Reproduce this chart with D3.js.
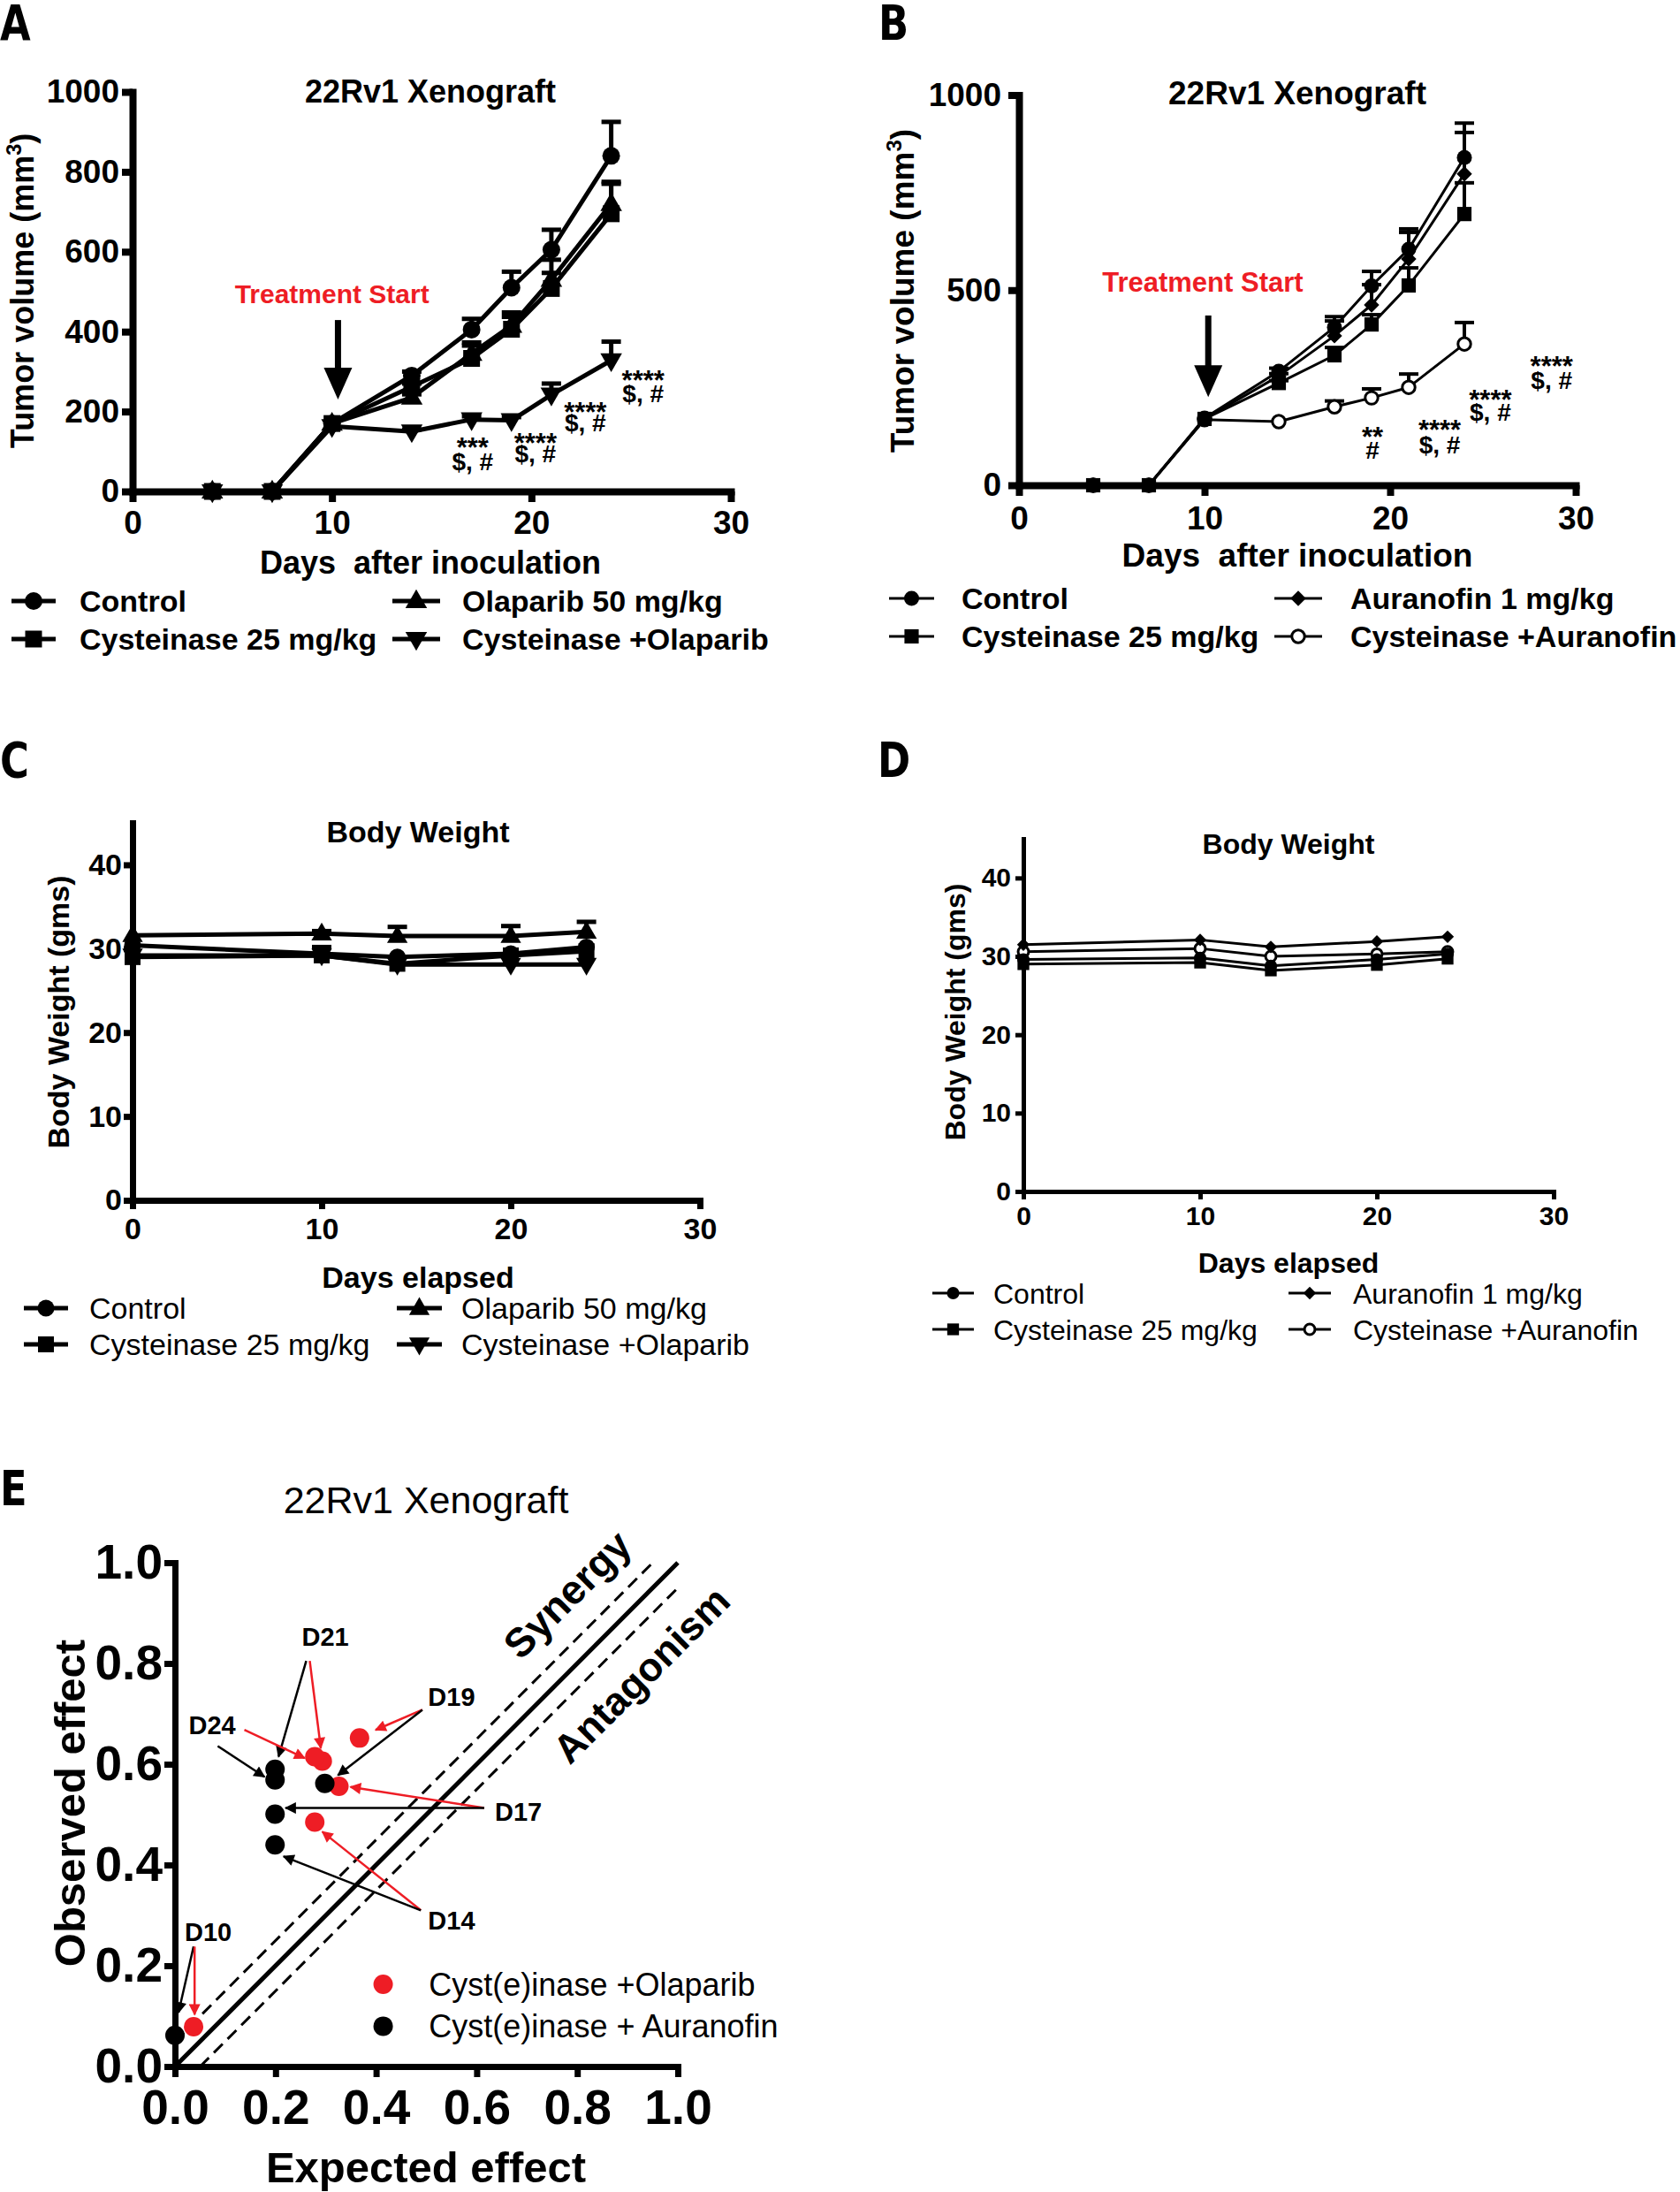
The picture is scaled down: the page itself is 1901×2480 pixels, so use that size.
<!DOCTYPE html>
<html><head><meta charset="utf-8">
<script src="https://cdn.jsdelivr.net/npm/d3@7"></script>
<style>body{margin:0;background:#fff} svg{display:block}</style>
</head><body>
<script>
// ---------------- DATA ----------------
// Panel A / B : tumour volume (mm3)
const daysTumor = [4, 7, 10, 14, 17, 19, 21, 24];
const aControl   = [0, 0, 170, 290, 405, 510, 605, 840];
const aControlE  = [0, 0, 0, 10, 27, 40, 50, 85];
const aCyst      = [0, 0, 170, 262, 333, 406, 508, 695];
const aCystE     = [0, 0, 0, 8, 40, 42, 39, 80];
const aOlap      = [0, 0, 170, 235, 345, 415, 530, 720];
const aOlapE     = [0, 0, 0, 8, 20, 22, 50, 50];
const aCombo     = [0, 0, 163, 150, 180, 178, 242, 328];
const aComboE    = [0, 0, 0, 5, 8, 8, 28, 47];

const bControl   = [0, 0, 172, 292, 405, 511, 605, 840];
const bControlE  = [0, 0, 0, 8, 27, 37, 52, 88];
const bCyst      = [0, 0, 170, 262, 333, 412, 512, 695];
const bCystE     = [0, 0, 0, 6, 20, 25, 45, 80];
const bAura      = [0, 0, 170, 280, 383, 462, 580, 798];
const bAuraE     = [0, 0, 0, 6, 38, 52, 68, 106];
const bCombo     = [0, 0, 168, 163, 201, 224, 251, 362];
const bComboE    = [0, 0, 0, 0, 15, 23, 34, 55];

// Panel C / D : body weight (g)
const daysWeight = [0, 10, 14, 20, 24];
const cControl = [30.4, 29.4, 29.0, 29.4, 30.2];
const cCyst    = [29.0, 29.2, 28.2, 29.2, 29.7];
const cCystE   = [0, 1.0, 0, 0, 0];
const cOlap    = [31.6, 31.8, 31.5, 31.5, 32.0];
const cOlapE   = [0, 0.3, 1.1, 1.2, 1.2];
const cCombo   = [29.2, 29.2, 28.1, 28.1, 28.1];

const dControl = [29.6, 29.8, 28.8, 29.6, 30.3];
const dCyst    = [29.0, 29.2, 28.2, 28.9, 29.7];
const dAura    = [31.5, 32.1, 31.2, 31.9, 32.5];
const dCombo   = [30.6, 31.0, 30.0, 30.3, 30.6];

// Tick values
const tumorXTicks = [0, 10, 20, 30];
const aYTicks = [0, 200, 400, 600, 800, 1000];
const bYTicks = [0, 500, 1000];
const weightYTicks = [0, 10, 20, 30, 40];
const eTicks = [0, 0.2, 0.4, 0.6, 0.8, 1.0];

// Significance annotations (day, value of line 1, value of line 2)
const aStars  = ['***', '****', '****', '****'];
const aStars2 = ['$, #', '$, #', '$, #', '$, #'];
const aStarDay = [17.05, 20.2, 22.7, 25.6];
const aStarV1 = [128, 139, 217, 296];
const aStarV2 = [75, 95, 173, 246];
const bStars  = ['**', '****', '****', '****'];
const bStars2 = ['#', '$, #', '$, #', '$, #'];
const bStarDay = [19.05, 22.67, 25.4, 28.7];
const bStarV1 = [143, 161, 238, 324];
const bStarV2 = [91, 104, 188, 270];

// Panel E : Bliss plot, days D10,D14,D17,D19,D21,D24
const eDayLabels = ['D10', 'D14', 'D17', 'D19', 'D21', 'D24'];
const eOlapX = [0.037, 0.278, 0.326, 0.367, 0.293, 0.278];
const eOlapY = [0.079, 0.485, 0.556, 0.652, 0.606, 0.615];
const eAuraX = [0.0, 0.199, 0.199, 0.298, 0.199, 0.199];
const eAuraY = [0.062, 0.440, 0.501, 0.562, 0.590, 0.569];
const eLabelX = [0.066, 0.55, 0.683, 0.55, 0.299, 0.074];
const eLabelY = [0.267, 0.289, 0.505, 0.733, 0.853, 0.677];
// arrows: from (x1,y1) to (x2,y2), colour key
const eArrX1 = [0.261, 0.268, 0.492, 0.492, 0.138, 0.085, 0.615, 0.615, 0.489, 0.489, 0.037, 0.039];
const eArrY1 = [0.805, 0.805, 0.708, 0.708, 0.668, 0.636, 0.513, 0.513, 0.310, 0.310, 0.238, 0.238];
const eArrX2 = [0.206, 0.290, 0.399, 0.324, 0.258, 0.178, 0.349, 0.220, 0.293, 0.216, 0.007, 0.039];
const eArrY2 = [0.615, 0.632, 0.668, 0.578, 0.612, 0.575, 0.555, 0.513, 0.466, 0.417, 0.107, 0.103];
const eArrCol = ['k', 'r', 'r', 'k', 'r', 'k', 'r', 'k', 'r', 'k', 'k', 'r'];
const eRefOffsets = [0, 0.05, -0.05];

// ---------------- DRAWING ----------------
const FONT = "'Liberation Sans', Arial, Helvetica, sans-serif";
const RED = '#ee1d25';
const svg = d3.select('body').append('svg').attr('width', 1901).attr('height', 2480)
  .attr('font-family', FONT);

function T(p, x, y, s, size, o = {}) {
  const t = p.append('text').attr('x', x).attr('y', y).text(s)
    .attr('font-size', size).attr('font-family', o.family || FONT)
    .attr('font-weight', o.weight || 'bold').attr('text-anchor', o.anchor || 'start')
    .attr('fill', o.fill || '#000');
  if (o.rotate) t.attr('transform', `rotate(${o.rotate},${x},${y})`);
  return t;
}

function symPath(type, size) { return d3.symbol().type(type).size(size)(); }

function drawMarker(g, kind, cx, cy, s) {
  let p;
  if (kind === 'circle') p = g.append('circle').attr('cx', cx).attr('cy', cy).attr('r', s).attr('fill', '#000');
  else if (kind === 'open') p = g.append('circle').attr('cx', cx).attr('cy', cy).attr('r', s * 0.85)
      .attr('fill', '#fff').attr('stroke', '#000').attr('stroke-width', 3);
  else if (kind === 'square') p = g.append('path').attr('d', symPath(d3.symbolSquare, (s * 1.9) ** 2))
      .attr('transform', `translate(${cx},${cy})`).attr('fill', '#000');
  else if (kind === 'diamond') p = g.append('path').attr('d', symPath(d3.symbolSquare, (s * 1.45) ** 2))
      .attr('transform', `translate(${cx},${cy}) rotate(45)`).attr('fill', '#000');
  else if (kind === 'tri') p = g.append('path').attr('d', symPath(d3.symbolTriangle, s * s * 2.6))
      .attr('transform', `translate(${cx},${cy + 1})`).attr('fill', '#000');
  else if (kind === 'tridown') p = g.append('path').attr('d', symPath(d3.symbolTriangle, s * s * 2.6))
      .attr('transform', `translate(${cx},${cy - 1}) rotate(180)`).attr('fill', '#000');
  return p;
}

function linePanel(c) {
  const g = svg.append('g');
  const x = d3.scaleLinear().domain(c.xDomain).range(c.xRange);
  const y = d3.scaleLinear().domain(c.yDomain).range(c.yRange);

  const xa = g.append('g').attr('transform', `translate(0,${c.yRange[0]})`)
    .call(d3.axisBottom(x).tickValues(c.xTicks).tickFormat(d3.format('d')).tickSize(c.tick).tickSizeOuter(0).tickPadding(c.xPad));
  const ya = g.append('g').attr('transform', `translate(${c.xRange[0]},0)`)
    .call(d3.axisLeft(y).tickValues(c.yTicks).tickFormat(d3.format('d')).tickSize(c.tick).tickSizeOuter(0).tickPadding(c.yPad));
  [xa, ya].forEach(a => {
    a.attr('font-family', FONT).attr('font-size', c.tickFont).attr('font-weight', 'bold');
    a.select('.domain').attr('stroke', '#000').attr('stroke-width', c.axisW).attr('stroke-linecap', 'square');
    a.selectAll('.tick line').attr('stroke', '#000').attr('stroke-width', c.axisW);
    a.selectAll('.tick text').attr('fill', '#000');
  });
  const line = d3.line().x((d, i) => x(c.days[i])).y(d => y(d));
  c.series.forEach(s => {
    if (s.err) s.err.forEach((e, i) => {
      if (e > 0) {
        const xx = x(c.days[i]), y0 = y(s.vals[i]), y1 = y(s.vals[i] + e);
        g.append('line').attr('x1', xx).attr('x2', xx).attr('y1', y0).attr('y2', y1)
          .attr('stroke', '#000').attr('stroke-width', c.errW);
        g.append('line').attr('x1', xx - c.capW / 2).attr('x2', xx + c.capW / 2).attr('y1', y1).attr('y2', y1)
          .attr('stroke', '#000').attr('stroke-width', c.errW);
      }
    });
  });
  c.series.forEach(s => {
    g.append('path').attr('d', line(s.vals)).attr('fill', 'none').attr('stroke', '#000')
      .attr('stroke-width', c.lineW).attr('stroke-linejoin', 'round');
  });
  c.markerOrder.forEach(k => {
    const s = c.series[k];
    s.vals.forEach((v, i) => drawMarker(g, s.sym, x(c.days[i]), y(v), c.mk));
  });

  T(g, c.title[0], c.title[1], c.title[2], c.title[3], { anchor: 'middle' });
  T(g, c.xlab[0], c.xlab[1], c.xlab[2], c.xlab[3], { anchor: 'middle' }).style('white-space', 'pre');
  const yl = T(g, c.ylab[0], c.ylab[1], '', c.ylab[3], { anchor: 'middle', rotate: -90 });
  yl.append('tspan').text(c.ylab[2]);
  if (c.ylabSup) {
    yl.append('tspan').text(c.ylabSup).attr('font-size', c.ylab[3] * 0.65).attr('dy', -c.ylab[3] * 0.38);
    yl.append('tspan').text(')').attr('dy', c.ylab[3] * 0.38);
  }
  c.series.forEach((s, i) => {
    const L = c.legend[i];
    g.append('line').attr('x1', L[0]).attr('x2', L[1]).attr('y1', L[3]).attr('y2', L[3])
      .attr('stroke', '#000').attr('stroke-width', c.legLineW);
    drawMarker(g, s.sym, (L[0] + L[1]) / 2, L[3], c.mk);
    T(g, L[2], L[3] + c.legFont * 0.36, s.name, c.legFont, { weight: c.legWeight });
  });
  return { g, x, y };
}

// ---------- Panel A ----------
const A = linePanel({
  xDomain: [0, 30], yDomain: [0, 1000], xRange: [150, 827], yRange: [556, 104],
  xTicks: tumorXTicks, yTicks: aYTicks, tick: 12, xPad: 10, yPad: 3, axisW: 8, tickFont: 37,
  days: daysTumor, lineW: 5, errW: 5, capW: 22, mk: 10,
  series: [
    { name: 'Control', vals: aControl, err: aControlE, sym: 'circle' },
    { name: 'Cysteinase 25 mg/kg', vals: aCyst, err: aCystE, sym: 'square' },
    { name: 'Olaparib 50 mg/kg', vals: aOlap, err: aOlapE, sym: 'tri' },
    { name: 'Cysteinase +Olaparib', vals: aCombo, err: aComboE, sym: 'tridown' }
  ],
  markerOrder: [3, 2, 0, 1],
  title: [487, 116, '22Rv1 Xenograft', 36],
  xlab: [487, 649, 'Days  after inoculation', 36],
  ylab: [38, 329, 'Tumor volume (mm', 36], ylabSup: '3',
  legend: [[13, 63, 90, 680], [13, 63, 90, 723], [444, 498, 523, 680], [444, 498, 523, 723]],
  legFont: 34, legLineW: 5, legWeight: 'bold'
});

// ---------- Panel B ----------
const B = linePanel({
  xDomain: [0, 30], yDomain: [0, 1000], xRange: [1153, 1783], yRange: [549, 107.5],
  xTicks: tumorXTicks, yTicks: bYTicks, tick: 12, xPad: 12, yPad: 8, axisW: 8, tickFont: 37,
  days: daysTumor, lineW: 3, errW: 4, capW: 22, mk: 8.5,
  series: [
    { name: 'Control', vals: bControl, err: bControlE, sym: 'circle' },
    { name: 'Cysteinase 25 mg/kg', vals: bCyst, err: bCystE, sym: 'square' },
    { name: 'Auranofin 1 mg/kg', vals: bAura, err: bAuraE, sym: 'diamond' },
    { name: 'Cysteinase +Auranofin', vals: bCombo, err: bComboE, sym: 'open' }
  ],
  markerOrder: [3, 1, 2, 0],
  title: [1468, 118, '22Rv1 Xenograft', 37],
  xlab: [1468, 641, 'Days  after inoculation', 37],
  ylab: [1034, 329, 'Tumor volume (mm', 37], ylabSup: '3',
  legend: [[1006, 1057, 1088, 677], [1006, 1057, 1088, 720], [1442, 1496, 1528, 677], [1442, 1496, 1528, 720]],
  legFont: 34, legLineW: 3, legWeight: 'bold'
});

function treatment(P, day, vText, vTop, vTip, size) {
  const xx = P.x(day);
  T(P.g, P.x(day - 0.3), P.y(vText) + size * 0.36, 'Treatment Start', size, { anchor: 'middle', fill: RED });
  const yTop = P.y(vTop), yTip = P.y(vTip);
  P.g.append('line').attr('x1', xx).attr('x2', xx).attr('y1', yTop).attr('y2', yTip - 30)
    .attr('stroke', '#000').attr('stroke-width', 7);
  P.g.append('path').attr('d', `M${xx - 16},${yTip - 36} L${xx + 16},${yTip - 36} L${xx},${yTip} Z`).attr('fill', '#000');
}
treatment(A, 10.3, 496, 429, 230, 30);
treatment(B, 10.2, 521, 435, 226, 31);

function stars(P, s1, s2, days, v1, v2) {
  days.forEach((d, i) => {
    T(P.g, P.x(d), P.y(v1[i]) + 19, s1[i], 31, { anchor: 'middle' });
    T(P.g, P.x(d), P.y(v2[i]) + 10, s2[i], 28, { anchor: 'middle' });
  });
}
stars(A, aStars, aStars2, aStarDay, aStarV1, aStarV2);
stars(B, bStars, bStars2, bStarDay, bStarV1, bStarV2);

// ---------- Panel C ----------
linePanel({
  xDomain: [0, 30], yDomain: [0, 45], xRange: [150, 792], yRange: [1358, 931],
  xTicks: tumorXTicks, yTicks: weightYTicks, tick: 10, xPad: 10, yPad: 2, axisW: 7, tickFont: 34,
  days: daysWeight, lineW: 5, errW: 5, capW: 22, mk: 9.5,
  series: [
    { name: 'Control', vals: cControl, sym: 'circle' },
    { name: 'Cysteinase 25 mg/kg', vals: cCyst, err: cCystE, sym: 'square' },
    { name: 'Olaparib 50 mg/kg', vals: cOlap, err: cOlapE, sym: 'tri' },
    { name: 'Cysteinase +Olaparib', vals: cCombo, sym: 'tridown' }
  ],
  markerOrder: [2, 3, 1, 0],
  title: [473, 953, 'Body Weight', 34],
  xlab: [473, 1457, 'Days elapsed', 34],
  ylab: [78, 1145, 'Body Weight (gms)', 34],
  legend: [[27, 77, 101, 1480], [27, 77, 101, 1521], [449, 500, 522, 1480], [449, 500, 522, 1521]],
  legFont: 34, legLineW: 5, legWeight: 'normal'
});

// ---------- Panel D ----------
linePanel({
  xDomain: [0, 30], yDomain: [0, 45], xRange: [1158, 1758], yRange: [1348, 949],
  xTicks: tumorXTicks, yTicks: weightYTicks, tick: 9, xPad: 8, yPad: 5, axisW: 5, tickFont: 30,
  days: daysWeight, lineW: 3, errW: 3, capW: 18, mk: 7,
  series: [
    { name: 'Control', vals: dControl, sym: 'circle' },
    { name: 'Cysteinase 25 mg/kg', vals: dCyst, sym: 'square' },
    { name: 'Auranofin 1 mg/kg', vals: dAura, sym: 'diamond' },
    { name: 'Cysteinase +Auranofin', vals: dCombo, sym: 'open' }
  ],
  markerOrder: [3, 2, 0, 1],
  title: [1458, 966, 'Body Weight', 32],
  xlab: [1458, 1440, 'Days elapsed', 32],
  ylab: [1092, 1145, 'Body Weight (gms)', 32],
  legend: [[1055, 1102, 1124, 1463], [1055, 1102, 1124, 1504], [1458, 1506, 1531, 1463], [1458, 1506, 1531, 1504]],
  legFont: 32, legLineW: 3, legWeight: 'normal'
});

// ---------- Panel letters ----------
const LF = "'DejaVu Sans', 'Open Sans', sans-serif";
[['A', 0, 45], ['B', 994, 45], ['C', 0, 879], ['D', 993, 879], ['E', 0, 1703]].forEach(l =>
  T(svg, 0, 0, l[0], 56, { family: LF }).attr('transform', `translate(${l[1]},${l[2]}) scale(0.8,1)`));

// ---------- Panel E ----------
(function () {
  const g = svg.append('g');
  const x = d3.scaleLinear().domain([0, 1]).range([198, 767]);
  const y = d3.scaleLinear().domain([0, 1]).range([2338, 1768]);
  const defs = svg.append('defs');
  [['k', '#000'], ['r', RED]].forEach(([k, col]) => {
    defs.append('marker').attr('id', 'ah' + k).attr('viewBox', '0 0 10 10').attr('refX', 9).attr('refY', 5)
      .attr('markerWidth', 17).attr('markerHeight', 13).attr('markerUnits', 'userSpaceOnUse').attr('orient', 'auto')
      .append('path').attr('d', 'M0,0 L10,5 L0,10 Z').attr('fill', col);
  });
  eRefOffsets.forEach(o => {
    const x0 = Math.max(0, -o), x1 = Math.min(1, 1 - o);
    g.append('line').attr('x1', x(x0)).attr('y1', y(x0 + o)).attr('x2', x(x1)).attr('y2', y(x1 + o))
      .attr('stroke', '#000').attr('stroke-width', o === 0 ? 5 : 3)
      .attr('stroke-dasharray', o === 0 ? null : '14,8');
  });
  const xa = g.append('g').attr('transform', `translate(0,${y(0)})`)
    .call(d3.axisBottom(x).tickValues(eTicks).tickFormat(d3.format('.1f')).tickSize(12).tickSizeOuter(0).tickPadding(14));
  const ya = g.append('g').attr('transform', `translate(${x(0)},0)`)
    .call(d3.axisLeft(y).tickValues(eTicks).tickFormat(d3.format('.1f')).tickSize(12).tickSizeOuter(0).tickPadding(2));
  [xa, ya].forEach(a => {
    a.attr('font-family', FONT).attr('font-size', 55).attr('font-weight', 'bold');
    a.select('.domain').attr('stroke', '#000').attr('stroke-width', 7).attr('stroke-linecap', 'square');
    a.selectAll('.tick line').attr('stroke', '#000').attr('stroke-width', 7);
    a.selectAll('.tick text').attr('fill', '#000');
  });
  eArrX1.forEach((_, i) => {
    g.append('line').attr('x1', x(eArrX1[i])).attr('y1', y(eArrY1[i])).attr('x2', x(eArrX2[i])).attr('y2', y(eArrY2[i]))
      .attr('stroke', eArrCol[i] === 'r' ? RED : '#000').attr('stroke-width', 2.5)
      .attr('marker-end', `url(#ah${eArrCol[i]})`);
  });
  eOlapX.forEach((v, i) => g.append('circle').attr('cx', x(v)).attr('cy', y(eOlapY[i])).attr('r', 11).attr('fill', RED));
  eAuraX.forEach((v, i) => g.append('circle').attr('cx', x(v)).attr('cy', y(eAuraY[i])).attr('r', 11).attr('fill', '#000'));
  eDayLabels.forEach((l, i) => T(g, x(eLabelX[i]), y(eLabelY[i]) + 10, l, 29, { anchor: 'middle' }));
  T(g, x(0.78), y(0.937) + 16, 'Synergy', 46, { anchor: 'middle' })
    .attr('transform', `rotate(-45,${x(0.78)},${y(0.937)})`);
  T(g, x(0.927), y(0.778) + 16, 'Antagonism', 45, { anchor: 'middle' })
    .attr('transform', `rotate(-45,${x(0.927)},${y(0.778)})`);
  T(g, 482, 1712, '22Rv1 Xenograft', 43, { anchor: 'middle', weight: 'normal' });
  T(g, 482, 2469, 'Expected effect', 49, { anchor: 'middle' });
  T(g, 96, 2040, 'Observed effect', 49, { anchor: 'middle', rotate: -90 });
  g.append('circle').attr('cx', x(0.414)).attr('cy', y(0.163)).attr('r', 11).attr('fill', RED);
  g.append('circle').attr('cx', x(0.414)).attr('cy', y(0.08)).attr('r', 11).attr('fill', '#000');
  T(g, x(0.505), y(0.163) + 13, 'Cyst(e)inase +Olaparib', 36, { weight: 'normal' });
  T(g, x(0.505), y(0.08) + 13, 'Cyst(e)inase + Auranofin', 36, { weight: 'normal' });
})();
</script>
</body></html>
